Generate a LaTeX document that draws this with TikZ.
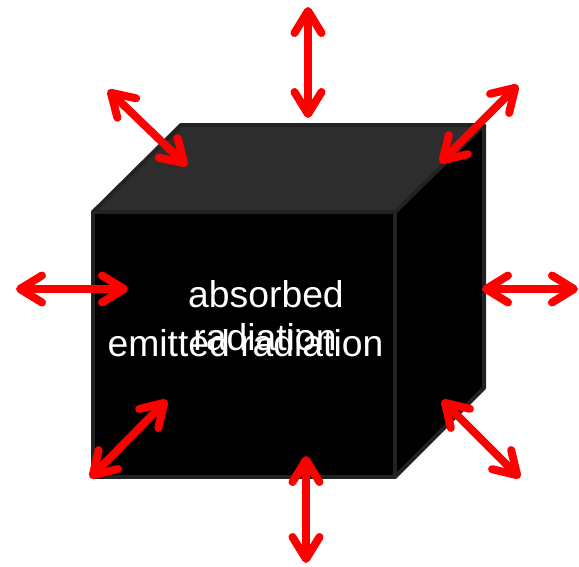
\documentclass[tikz,border=0pt]{standalone}
\usepackage{fontspec}
\setmainfont{Liberation Sans}
\usetikzlibrary{arrows.meta}
\definecolor{edgegray}{HTML}{222222}
\definecolor{topgray}{HTML}{2D2D2D}
\tikzset{
  face/.style={draw=edgegray, line width=4pt, line join=round},
  dbl/.style={draw=red, line width=8pt,
    {Straight Barb[length=22pt,width=27pt,round]}-{Straight Barb[length=22pt,width=27pt,round]}},
  lbl/.style={text=white, anchor=base, font=\fontsize{37.3}{44}\selectfont, inner sep=0pt}
}
\begin{document}
\begin{tikzpicture}[x=1pt,y=-1pt]
\useasboundingbox (0,0) rectangle (579,566);
% cube corners
\coordinate (ftl) at (93,212);
\coordinate (ftr) at (395,212);
\coordinate (fbl) at (93,477);
\coordinate (fbr) at (395,477);
\coordinate (btl) at (181,125);
\coordinate (btr) at (484,125);
\coordinate (bbr) at (484,388);
% faces
\fill[black] (ftl) -- (ftr) -- (fbr) -- (fbl) -- cycle;
\fill[black] (ftr) -- (btr) -- (bbr) -- (fbr) -- cycle;
\fill[topgray] (ftl) -- (btl) -- (btr) -- (ftr) -- cycle;
\draw[face] (ftl) -- (ftr) -- (fbr) -- (fbl) -- cycle;
\draw[face] (ftr) -- (btr) -- (bbr) -- (fbr);
\draw[face] (ftl) -- (btl) -- (btr);
% labels
\node[lbl] (abs) at (266,307) {absorbed};
\node[lbl] (rad) at (265,350) {radiation};
\node[lbl] (emi) at (245.5,356) {emitted radiation};
% arrow end points
\coordinate (t1) at (308,7);   \coordinate (t2) at (308,118);
\coordinate (b1) at (306,456); \coordinate (b2) at (306,563);
\coordinate (l1) at (16,289);  \coordinate (l2) at (128,289);
\coordinate (r1) at (482,289); \coordinate (r2) at (578,289);
\coordinate (tl1) at (108,90); \coordinate (tl2) at (187,166);
\coordinate (tr1) at (518,85); \coordinate (tr2) at (440,163);
\coordinate (bl1) at (90,478); \coordinate (bl2) at (167,400);
\coordinate (br1) at (442,400);\coordinate (br2) at (520,478);
\draw[dbl] (t1) -- (t2);
\draw[dbl] (b1) -- (b2);
\draw[dbl] (l1) -- (l2);
\draw[dbl] (r1) -- (r2);
\draw[dbl] (tl1) -- (tl2);
\draw[dbl] (tr1) -- (tr2);
\draw[dbl] (bl1) -- (bl2);
\draw[dbl] (br1) -- (br2);
\end{tikzpicture}
\end{document}
